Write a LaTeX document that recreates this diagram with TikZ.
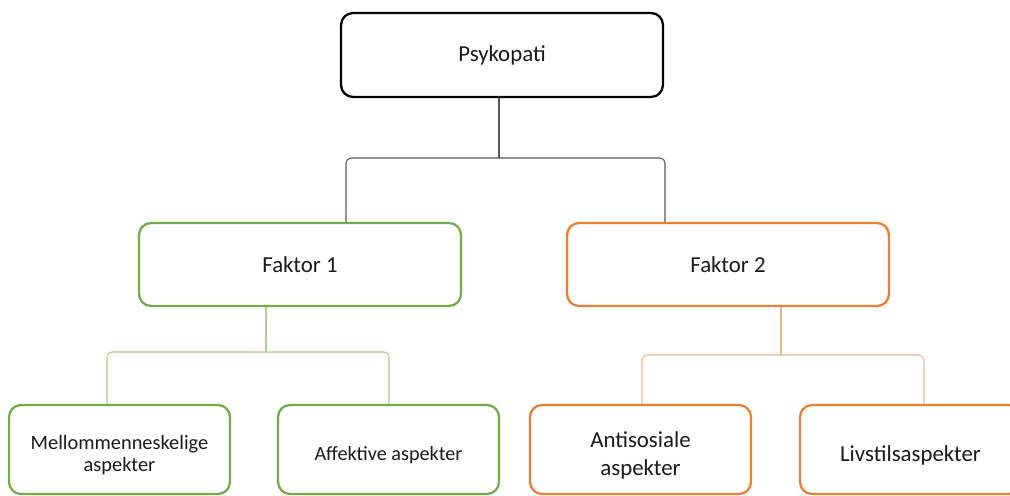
\documentclass[tikz,border=0pt]{standalone}
\usepackage{fontspec}
\setmainfont{Carlito}
\definecolor{grn}{HTML}{70AD47}
\definecolor{grnl}{HTML}{A9D18E}
\definecolor{org}{HTML}{ED7D31}
\definecolor{orgl}{HTML}{F4B183}
\definecolor{txt}{HTML}{1A1A1A}
\begin{document}
\begin{tikzpicture}[x=0.02cm,y=-0.02cm,
  box/.style={draw,rounded corners=0.24cm,line width=1.3pt,fill=white,align=center,text=txt,inner sep=0pt},
  topbox/.style={box,draw=black,minimum width=6.44cm,minimum height=1.68cm,font=\fontsize{13}{15}\selectfont},
  midbox/.style={box,minimum width=6.44cm,minimum height=1.66cm,font=\fontsize{13}{15}\selectfont},
  lowbox/.style={box,minimum width=4.42cm,minimum height=1.78cm},
  lbl/.style={align=center,text=txt,inner sep=0pt,yshift=-0.11cm},
  conn/.style={line width=0.6pt,rounded corners=0.1cm}]
\useasboundingbox (0,0) rectangle (1010,496);
\clip (0,0) rectangle (1010,496);
\node[topbox] (p) at (502,55) {Psykopati};
\node[midbox,draw=grn] (f1) at (300,264.5) {Faktor 1};
\node[midbox,draw=org] (f2) at (728,264.5) {Faktor 2};
\node[lowbox,draw=grn,label={[lbl,font=\fontsize{11.6}{12.8}\selectfont]center:Mellommenneskelige\\aspekter}] (m) at (119.5,449.5) {};
\node[lowbox,draw=grn,label={[lbl,font=\fontsize{11.5}{13}\selectfont]center:Affektive aspekter}] (a) at (388.5,449.5) {};
\node[lowbox,draw=org,label={[lbl,font=\fontsize{13}{16}\selectfont]center:Antisosiale\\aspekter}] (s) at (640.5,449.5) {};
\node[lowbox,draw=org,label={[lbl,font=\fontsize{13}{16}\selectfont]center:Livstilsaspekter}] (l) at (910.5,449.5) {};
% top connectors
\coordinate (pj) at (499,158);
\draw[conn,draw=black!65] (p.south -| pj) -- (pj);
\draw[conn,draw=black!65] (pj) -- (346,158) -- (f1.north -| 346,0);
\draw[conn,draw=black!65] (pj) -- (665,158) -- (f2.north -| 665,0);
% faktor 1 connectors
\coordinate (gj) at (266,352);
\draw[conn,draw=grnl] (f1.south -| gj) -- (gj);
\draw[conn,draw=grnl] (gj) -- (107,352) -- (m.north -| 107,0);
\draw[conn,draw=grnl] (gj) -- (389,352) -- (a.north -| 389,0);
% faktor 2 connectors
\coordinate (oj) at (781,355);
\draw[conn,draw=orgl] (f2.south -| oj) -- (oj);
\draw[conn,draw=orgl] (oj) -- (642,355) -- (s.north -| 642,0);
\draw[conn,draw=orgl] (oj) -- (924,355) -- (l.north -| 924,0);
\end{tikzpicture}
\end{document}
